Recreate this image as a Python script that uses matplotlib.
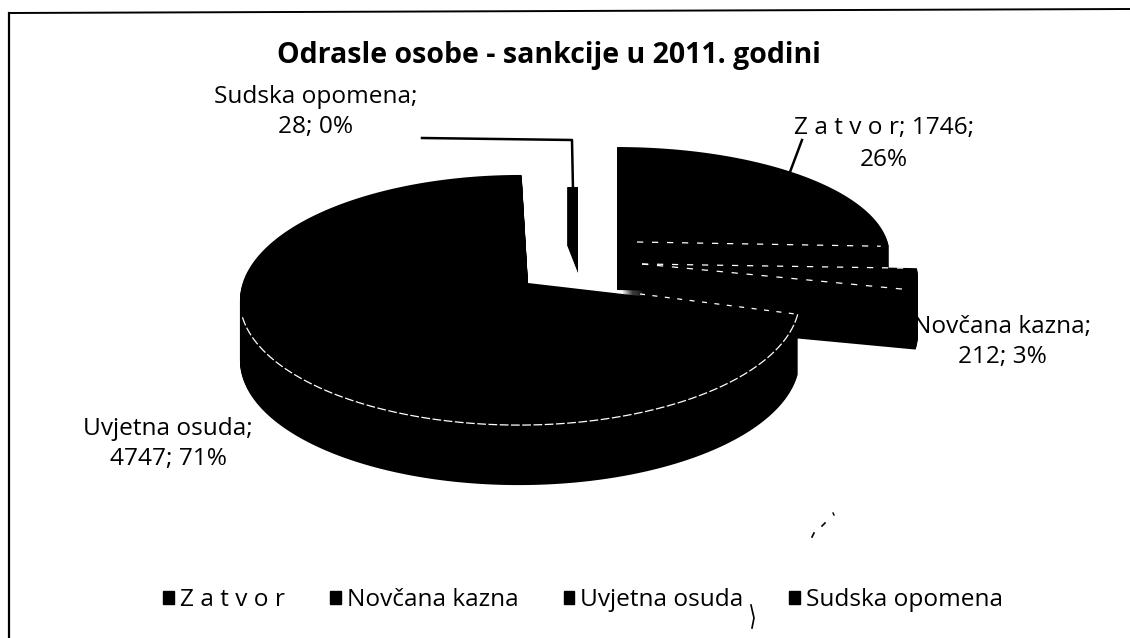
import matplotlib
matplotlib.use("Agg")
import matplotlib.pyplot as plt
import numpy as np
from matplotlib.patches import Patch

# data
CATEGORIES = ["Z a t v o r", "Novčana kazna", "Uvjetna osuda", "Sudska opomena"]
VALUES = [1746, 212, 4747, 28]
TITLE = "Odrasle osobe - sankcije u 2011. godini"

# one slice each, in pixels of the scan: apex x, apex y, radius x, radius y,
# perspective front/back, perspective left/right, depth
SLICE_GEOM = [
    (617, 240, 270, 105.6, 0.136, 0.0, 50),
    (622, 262, 293, 105, 0.136, 0.0, 60),
    (528, 283, 277, 122.7, 0.136, 0.029, 60),
    (578, 215, 420, 28, 0.0, 0.0, 58),
]
LABEL_POS = [(884, 144), (1002, 342), (168, 444), (316, 112)]
LABEL_SIZE = 17.6

total = sum(VALUES)
plt.rcParams['font.family'] = ['Open Sans', 'DejaVu Sans']


def project(geom, cw_deg):
    # clockwise angle from the top of the pie -> point on the tilted disc
    x0, y0, rx, ry, k, m, _ = geom
    th = np.radians(cw_deg)
    u, v = np.sin(th), -np.cos(th)
    w = 1 - k * v + m * u
    return x0 + rx * u / w, y0 + ry * v / w


fig = plt.figure(figsize=(11.3, 6.38), dpi=100)
ax = fig.add_axes([0, 0, 1, 1])
ax.set_xlim(0, 1130)
ax.set_ylim(638, 0)
ax.axis('off')

# scan frame
ax.plot([9, 9], [638, 13], color='black', lw=1.6)
ax.plot([9, 1130], [13, 9], color='black', lw=1.4)

# exploded slices
start = 0.0
edges = []
for val, geom in zip(VALUES, SLICE_GEOM):
    sweep = 360 * val / total
    ang = np.linspace(start, start + sweep, max(int(sweep * 2), 8))
    ax_, ay_ = project(geom, ang)
    px = np.r_[geom[0], ax_]
    py = np.r_[geom[1], ay_]
    for dy in range(geom[6], -1, -1):
        ax.fill(px, py + dy, color='black', lw=0)
    edges.append((start, start + sweep))
    start += sweep

# broken white edges of the top faces
WHITE = dict(color='white', lw=0.9)
for i in (0, 1):
    for a in edges[i][:2]:
        if i == 0 and a == edges[0][0]:
            continue
        ex, ey = project(SLICE_GEOM[i], a)
        ax.plot([SLICE_GEOM[i][0] + 20, ex - 8], [SLICE_GEOM[i][1] + 2, ey], ls=(0, (5, 7)), **WHITE)

ex, ey = project(SLICE_GEOM[2], edges[2][0])
ax.plot([640, ex], [294, ey], ls=(0, (4, 6)), **WHITE)
ang = np.linspace(edges[2][0], 255, 120)
ax.plot(*project(SLICE_GEOM[2], ang), ls=(0, (7, 2)), **WHITE)

# data labels
for i, (cat, val) in enumerate(zip(CATEGORIES, VALUES)):
    pct = round(100 * val / total)
    if i == 0:
        txt = f"{cat}; {val};\n{pct}%"
    else:
        txt = f"{cat};\n{val}; {pct}%"
    x, y = LABEL_POS[i]
    ax.text(x, y, txt, ha='center', va='center', fontsize=LABEL_SIZE, color='black',
            linespacing=1.45 if i == 0 else 1.33)

# leader lines
ax.plot([422, 572, 573], [138, 140, 190], color='black', lw=1.8)
ax.plot([790, 802], [172, 140], color='black', lw=1.8)

ax.text(549, 55, TITLE, ha='center', va='center', fontsize=20.5, fontweight='bold', color='black')

# scan specks
ax.plot([812, 814], [537, 533], color='black', lw=1.2)
ax.plot([822, 825], [526, 523], color='black', lw=1.2)
ax.plot([833, 834], [513, 515], color='black', lw=1.0)
ax.plot([751, 754, 752], [605, 618, 628], color='black', lw=1.2)

handles = [Patch(color='black', label=c) for c in CATEGORIES]
ax.legend(handles=handles, loc='center', bbox_to_anchor=(583 / 1130, 1 - 600 / 638), ncol=4, frameon=False,
          fontsize=LABEL_SIZE, handlelength=0.42, handleheight=0.42, handletextpad=0.25, columnspacing=1.87)

fig.savefig('out.png', dpi=100)
